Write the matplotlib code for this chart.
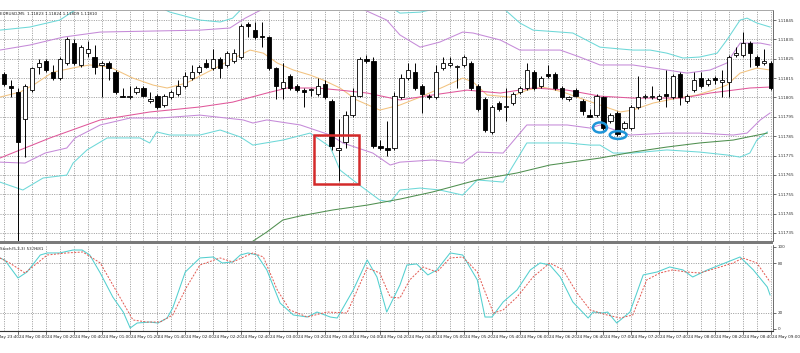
import matplotlib
matplotlib.use("Agg")
import matplotlib.pyplot as plt
from matplotlib.patches import Rectangle, Ellipse
from matplotlib.transforms import blended_transform_factory

BASE = 1.11
PT = 1e-5

# ---- candles (5-minute bars, index 0 = 24 May 00:00), prices in points above 1.11000
idx = list(range(-2, 109))
o_pts = [817, 811, 808, 794, 809, 821, 824, 818, 815, 823, 833, 822, 828, 826, 822, 823, 818, 806, 805, 808,
         810, 803, 806, 801, 805, 807, 811, 815, 818, 823, 820, 825, 822, 824, 826, 843, 840, 837, 836, 820,
         810, 816, 811, 809, 809, 807, 812, 803, 778, 782, 796, 806, 825, 824, 780, 779, 779, 805, 815, 818,
         811, 806, 805, 820, 822, 821, 822, 823, 811, 804, 787, 802, 800, 802, 808, 810, 818, 811, 817, 817,
         810, 804, 809, 803, 796, 796, 805, 793, 797, 789, 789, 800, 805, 805, 804, 807, 805, 817, 803, 809,
         815, 812, 815, 813, 813, 827, 827, 833, 826, 823, 823]
h_pts = [818, 814, 810, 812, 821, 825, 825, 822, 826, 836, 835, 832, 834, 832, 824, 824, 819, 810, 811, 811,
         811, 808, 807, 807, 809, 814, 818, 822, 822, 825, 830, 826, 829, 830, 843, 844, 844, 844, 837, 821,
         823, 817, 812, 810, 810, 815, 814, 804, 794, 798, 810, 826, 827, 826, 783, 793, 808, 817, 823, 823,
         812, 807, 822, 826, 826, 822, 827, 824, 812, 805, 801, 803, 810, 808, 811, 823, 819, 816, 822, 818,
         811, 806, 810, 804, 799, 807, 806, 797, 798, 793, 801, 816, 807, 811, 807, 819, 817, 818, 807, 818,
         818, 815, 816, 819, 827, 831, 839, 834, 827, 830, 824]
l_pts = [811, 805, 729, 774, 808, 817, 818, 814, 814, 822, 822, 821, 826, 817, 805, 814, 807, 805, 804, 807,
         805, 802, 799, 800, 804, 806, 810, 814, 817, 820, 819, 815, 821, 823, 825, 836, 835, 831, 819, 804,
         804, 809, 808, 800, 806, 806, 804, 778, 762, 779, 795, 805, 823, 779, 778, 775, 778, 804, 814, 809,
         797, 804, 804, 819, 821, 810, 821, 809, 798, 787, 786, 798, 793, 801, 807, 809, 809, 810, 815, 809,
         804, 803, 805, 796, 795, 795, 788, 792, 785, 788, 788, 799, 804, 804, 803, 800, 804, 801, 802, 808,
         810, 811, 812, 805, 805, 826, 826, 821, 821, 822, 809]
c_pts = [812, 810, 782, 811, 820, 823, 819, 815, 825, 835, 823, 831, 830, 821, 823, 820, 808, 805, 806, 810,
         806, 804, 800, 806, 808, 811, 816, 818, 821, 821, 825, 820, 828, 828, 842, 842, 836, 836, 820, 811,
         813, 810, 809, 808, 809, 811, 805, 780, 779, 796, 806, 825, 824, 780, 779, 778, 806, 815, 819, 810,
         807, 805, 818, 823, 823, 821, 826, 810, 799, 788, 800, 799, 800, 807, 810, 819, 810, 815, 816, 810,
         805, 805, 806, 798, 795, 806, 789, 796, 786, 792, 800, 805, 806, 806, 806, 806, 816, 805, 806, 814,
         811, 814, 814, 814, 826, 828, 833, 828, 822, 824, 810]

# ---- indicator lines: (candle index, points above 1.11000)
cyan_up_x = [-2.6, 1.7, 6.0, 8.2, 11.8, 16.1, 19.7, 21.8, 26.1, 29.0, 30.8, 32.6, 34.7, 40.5, 47.6, 51.9, 54.8,
             57.7, 60.5, 62.7, 66.3, 69.6, 72.0, 73.9, 77.8, 79.6, 83.5, 88.2, 90.7, 93.1, 95.4, 97.8, 100.3,
             101.7, 103.6, 104.6, 106.0, 107.9]
cyan_up_y = [839.8, 841.4, 845.0, 850.2, 857.9, 859.5, 852.7, 849.1, 845.0, 844.0, 846.0, 852.7, 863.1, 868.2,
             863.1, 855.3, 848.6, 849.1, 851.2, 857.9, 860.5, 851.2, 843.5, 839.8, 838.8, 838.3, 831.0, 829.5,
             829.5, 827.9, 825.4, 825.9, 827.9, 834.7, 845.0, 846.0, 843.5, 841.4]
purple_up_x = [-2.6, 1.7, 6.5, 11.8, 18.9, 26.1, 30.4, 32.6, 36.2, 43.8, 49.1, 52.9, 54.8, 57.7, 60.5, 63.8,
               65.3, 69.2, 72.0, 77.8, 80.6, 83.5, 88.2, 93.1, 96.0, 99.3, 101.7, 103.6, 106.5, 107.9]
purple_up_y = [829.5, 832.1, 836.2, 838.8, 839.3, 839.8, 840.9, 846.0, 852.7, 855.3, 851.2, 845.0, 837.3, 831.0,
               833.6, 838.8, 838.3, 834.7, 829.5, 829.5, 825.9, 821.8, 821.8, 819.2, 817.6, 819.2, 822.8, 833.1,
               833.1, 832.1]
orange_x = [-2.6, 0.3, 2.2, 5.0, 8.5, 10.3, 13.2, 16.5, 19.4, 21.4, 24.2, 26.1, 28.6, 30.4, 33.3, 35.2, 37.2,
            39.5, 41.9, 43.8, 46.2, 48.6, 51.9, 54.8, 57.7, 61.0, 63.8, 65.3, 67.3, 70.6, 73.0, 75.3, 78.2, 80.6,
            83.5, 86.4, 88.2, 91.1, 94.6, 97.4, 99.7, 101.7, 103.6, 106.0, 107.9]
orange_y = [805.2, 807.8, 811.4, 818.1, 820.7, 821.8, 820.7, 815.0, 811.4, 809.9, 812.5, 816.1, 820.7, 824.3,
            829.5, 827.9, 822.8, 819.2, 816.6, 814.0, 809.9, 803.7, 798.5, 801.1, 805.2, 810.4, 815.0, 813.0,
            806.3, 805.2, 808.8, 810.4, 807.8, 804.7, 801.1, 797.5, 798.5, 802.1, 804.7, 806.3, 808.8, 811.4,
            817.6, 820.2, 819.2]
magenta_x = [-2.6, 4.6, 11.8, 18.9, 26.1, 30.8, 35.7, 38.6, 42.9, 46.2, 50.1, 54.8, 59.5, 64.4, 69.2, 73.9,
             78.8, 83.5, 88.2, 95.4, 99.3, 102.6, 105.0, 107.9]
magenta_y = [773.7, 784.1, 793.4, 797.5, 800.1, 802.6, 807.3, 809.9, 809.9, 808.8, 807.3, 803.7, 806.3, 808.8,
             807.3, 809.9, 808.8, 805.7, 804.7, 804.7, 807.3, 808.8, 809.9, 810.4]
purple_lo_x = [-2.6, 1.0, 3.9, 7.0, 8.2, 11.8, 16.1, 20.4, 26.1, 32.3, 33.7, 35.7, 40.5, 44.8, 46.6, 50.9, 53.4,
               54.8, 59.5, 63.8, 65.9, 69.6, 73.0, 78.8, 82.1, 83.5, 87.8, 93.1, 97.8, 102.6, 104.6, 106.5, 107.9]
purple_lo_y = [771.6, 771.1, 776.3, 778.9, 784.1, 790.8, 794.4, 794.4, 795.9, 793.4, 791.8, 793.4, 790.8, 785.6,
               781.5, 776.3, 770.1, 771.6, 772.7, 771.1, 776.8, 776.3, 790.8, 790.8, 789.2, 790.8, 785.6, 786.6,
               786.6, 785.6, 786.6, 793.4, 797.0]
cyan_lo_x = [-2.6, 0.7, 3.6, 7.0, 7.9, 9.9, 12.8, 17.5, 18.9, 19.9, 21.8, 26.1, 29.0, 31.9, 33.7, 38.0, 41.9,
             44.8, 46.2, 48.6, 51.9, 53.4, 54.8, 57.7, 60.5, 63.8, 65.9, 69.6, 73.0, 78.8, 82.1, 83.5, 85.4, 88.2,
             93.1, 97.8, 101.7, 103.6, 105.0, 106.0, 107.5]
cyan_lo_y = [761.3, 757.2, 763.4, 764.9, 771.1, 777.9, 784.1, 784.1, 781.5, 787.2, 785.6, 785.6, 788.2, 784.6,
             780.4, 783.0, 786.6, 779.4, 767.5, 760.8, 752.0, 751.0, 757.2, 758.2, 757.2, 754.6, 762.4, 761.3,
             781.5, 781.5, 780.4, 780.4, 776.3, 776.3, 777.9, 776.8, 775.3, 774.2, 776.3, 783.0, 787.2]
green_x = [32.6, 33.3, 35.7, 38.0, 40.5, 45.2, 50.1, 54.8, 59.5, 65.9, 71.6, 76.3, 83.5, 88.2, 93.1, 97.8,
           102.6, 107.5]
green_y = [726.2, 729.8, 735.5, 741.7, 743.8, 746.9, 749.4, 752.5, 756.2, 762.4, 766.0, 770.1, 773.7, 776.8,
           779.4, 781.5, 783.0, 786.6]

# ---- stochastic oscillator
st_main_x = [-2.6, -1.9, 0.0, 1.3, 3.2, 4.2, 6.0, 7.9, 9.2, 10.3, 11.8, 13.6, 15.1, 16.1, 17.1, 18.9, 20.1, 21.4,
             22.2, 24.0, 26.1, 28.0, 29.3, 30.8, 31.9, 33.0, 34.3, 35.7, 37.6, 39.5, 41.5, 42.9, 44.8, 45.8, 48.1,
             50.1, 51.5, 52.9, 54.8, 55.8, 57.2, 58.8, 60.1, 62.0, 63.8, 65.9, 67.0, 68.0, 69.6, 71.6, 73.5, 74.9,
             76.3, 77.8, 79.6, 81.8, 82.5, 83.9, 84.6, 85.9, 87.8, 89.7, 91.7, 93.5, 95.4, 96.8, 98.9, 100.7,
             103.6, 105.5, 107.5, 107.9]
st_main_y = [86.6, 84.1, 62.2, 69.5, 90.2, 92.7, 92.7, 96.3, 96.3, 90.2, 68.3, 39.0, 20.7, 1.2, 7.3, 8.5, 7.3,
             13.4, 25.6, 69.5, 86.6, 87.8, 80.5, 81.7, 90.2, 92.7, 90.2, 72.0, 31.7, 17.1, 14.6, 20.7, 14.6, 13.4,
             47.6, 84.1, 63.4, 20.7, 53.7, 78.0, 79.3, 65.9, 72.0, 92.7, 90.2, 59.8, 14.6, 14.6, 32.9, 47.6, 72.0,
             80.5, 78.0, 63.4, 32.9, 13.4, 20.7, 19.5, 20.7, 7.3, 20.7, 65.9, 69.5, 75.6, 72.0, 63.4, 72.0, 78.0,
             87.8, 72.0, 51.2, 41.5]
st_sig_x = [-2.6, -1.2, 1.0, 4.2, 7.0, 9.3, 11.8, 14.6, 16.5, 18.5, 20.4, 22.2, 24.2, 26.1, 29.0, 30.8, 33.7,
            35.2, 37.2, 39.0, 41.5, 44.3, 47.2, 50.1, 51.9, 53.4, 54.8, 56.2, 58.1, 60.1, 62.0, 63.8, 65.9, 68.2,
            69.6, 71.6, 73.9, 76.3, 78.2, 80.2, 82.1, 84.5, 86.4, 88.2, 90.2, 92.1, 93.9, 95.9, 97.8, 100.3,
            102.6, 104.0, 106.0, 107.9]
st_sig_y = [86.6, 80.5, 68.3, 90.2, 92.7, 93.9, 80.5, 39.0, 11.0, 8.5, 8.5, 17.1, 51.2, 78.0, 86.6, 81.7, 92.7,
            87.8, 47.6, 23.2, 14.6, 20.7, 19.5, 74.4, 68.3, 39.0, 37.8, 59.8, 75.6, 69.5, 86.6, 87.8, 69.5, 19.5,
            23.2, 39.0, 63.4, 80.5, 72.0, 43.9, 23.2, 17.1, 13.4, 17.1, 59.8, 68.3, 72.0, 69.5, 68.3, 74.4, 80.5,
            86.6, 80.5, 57.3]

price_ticks_pts = [735, 745, 755, 765, 775, 785, 795, 805, 815, 825, 835, 845]
stoch_ticks = [0, 20, 80, 100]
time_tick_idx = list(range(-4, 109, 4))
time_tick_lbl = ["23 May 23:40"] + ["24 May %02d:%02d" % ((t * 5) // 60, (t * 5) % 60) for t in range(0, 109, 4)]

header_text = "EURUSD,M5  1.11823 1.11824 1.11809 1.11810"
stoch_text = "Stoch(5,3,3) 53.9681"

def P(v):
    return BASE + v * PT

W, H = 800, 353
fig = plt.figure(figsize=(W / 100, H / 100), dpi=100)
fig.patch.set_facecolor("white")

ax = fig.add_axes([0, 1 - 241 / H, 773 / W, (241 - 10) / H])
ax2 = fig.add_axes([0, 1 - 331 / H, 773 / W, (331 - 245) / H])

XL = (-2.58, 108.32)
grid_kw = dict(color="#8c8c8c", lw=0.6, ls=(0, (1.2, 1.6)), zorder=0)

# main panel
ax.set_xlim(*XL)
ax.set_ylim(P(730.85), P(850.2))
for g in range(-2, 109, 2):
    ax.axvline(g, **grid_kw)
    ax2.axvline(g, **grid_kw)
for t in price_ticks_pts:
    ax.axhline(P(t), **grid_kw)

LW = 0.75
ax.plot(cyan_up_x, [P(v) for v in cyan_up_y], color="#6dd8d8", lw=LW, zorder=2)
ax.plot(cyan_lo_x, [P(v) for v in cyan_lo_y], color="#6dd8d8", lw=LW, zorder=2)
ax.plot(purple_up_x, [P(v) for v in purple_up_y], color="#c58ad8", lw=LW, zorder=2)
ax.plot(purple_lo_x, [P(v) for v in purple_lo_y], color="#c58ad8", lw=LW, zorder=2)
ax.plot(orange_x, [P(v) for v in orange_y], color="#f2c27e", lw=LW, zorder=2)
ax.plot(magenta_x, [P(v) for v in magenta_y], color="#e0579a", lw=LW, zorder=2)
ax.plot(green_x, [P(v) for v in green_y], color="#4f8f4f", lw=LW, zorder=2)

bw = 0.62
for i, o, h, l, c in zip(idx, o_pts, h_pts, l_pts, c_pts):
    ax.vlines(i, P(l), P(h), color="black", lw=0.7, zorder=3)
    lo, hi = min(o, c), max(o, c)
    hgt = max(hi - lo, 0.35)
    fc = "black" if c < o else "white"
    ax.add_patch(Rectangle((i - bw / 2, P(lo)), bw, hgt * PT, facecolor=fc, edgecolor="black",
                           lw=0.6, zorder=4))

# annotations drawn on the chart
ax.add_patch(Rectangle((42.5, P(760.3)), 6.4, 25.3 * PT, fill=False, edgecolor="#d42a2a", lw=1.8, zorder=6))
ax.add_patch(Ellipse((83.5, P(789.5)), 2.0, 5.2 * PT, fill=False, edgecolor="#1f95d8", lw=1.8, zorder=6))
ax.add_patch(Ellipse((86.1, P(785.6)), 2.4, 4.0 * PT, fill=False, edgecolor="#1f95d8", lw=1.8, zorder=6))

ax.set_xticks([])
ax.yaxis.tick_right()
ax.set_yticks([P(t) for t in price_ticks_pts])
ax.set_yticklabels(["%.5f" % P(t) for t in price_ticks_pts], fontsize=3)
ax.tick_params(axis="y", length=2, width=0.5, pad=1.5, colors="#333333")
for s in ["left", "bottom"]:
    ax.spines[s].set_visible(False)
ax.spines["top"].set_color("#9a9a9a")
ax.spines["top"].set_linewidth(0.6)
ax.spines["right"].set_color("#555555")
ax.spines["right"].set_linewidth(0.6)
ax.text(0.0, 0.99, header_text, transform=ax.transAxes, fontsize=3, va="top", ha="left", color="#222222")

# stochastic panel
ax2.set_xlim(*XL)
ax2.set_ylim(-2.44, 102.4)
for t in [20, 80]:
    ax2.axhline(t, **grid_kw)
ax2.plot(st_main_x, st_main_y, color="#52cfcf", lw=LW, zorder=3)
ax2.plot(st_sig_x, st_sig_y, color="#e2574f", lw=0.7, ls=(0, (2, 1.5)), zorder=3)
ax2.yaxis.tick_right()
ax2.set_yticks(stoch_ticks)
ax2.set_yticklabels([str(t) for t in stoch_ticks], fontsize=3)
ax2.tick_params(axis="y", length=2, width=0.5, pad=1.5, colors="#333333")
ax2.set_xticks([])
ax2.spines["left"].set_visible(False)
ax2.spines["top"].set_visible(False)
ax2.spines["bottom"].set_color("#333333")
ax2.spines["bottom"].set_linewidth(0.8)
ax2.spines["right"].set_color("#555555")
ax2.spines["right"].set_linewidth(0.6)
ax2.text(0.0, 0.98, stoch_text, transform=ax2.transAxes, fontsize=3, va="top", ha="left", color="#222222")

tr = blended_transform_factory(ax2.transData, ax2.transAxes)
for t, lbl in zip(time_tick_idx, time_tick_lbl):
    ax2.plot([t, t], [0, -0.04], transform=tr, color="#333333", lw=0.5, clip_on=False)
    ax2.text(t + 0.15, -0.05, lbl, transform=tr, fontsize=3, va="top", ha="left", color="#222222",
             clip_on=False)

# separator between panels
fig.add_artist(Rectangle((0, 1 - 244 / H), 773 / W, 3 / H, transform=fig.transFigure,
                         facecolor="#7a7a7a", edgecolor="none"))

fig.savefig("out.png", dpi=100)
